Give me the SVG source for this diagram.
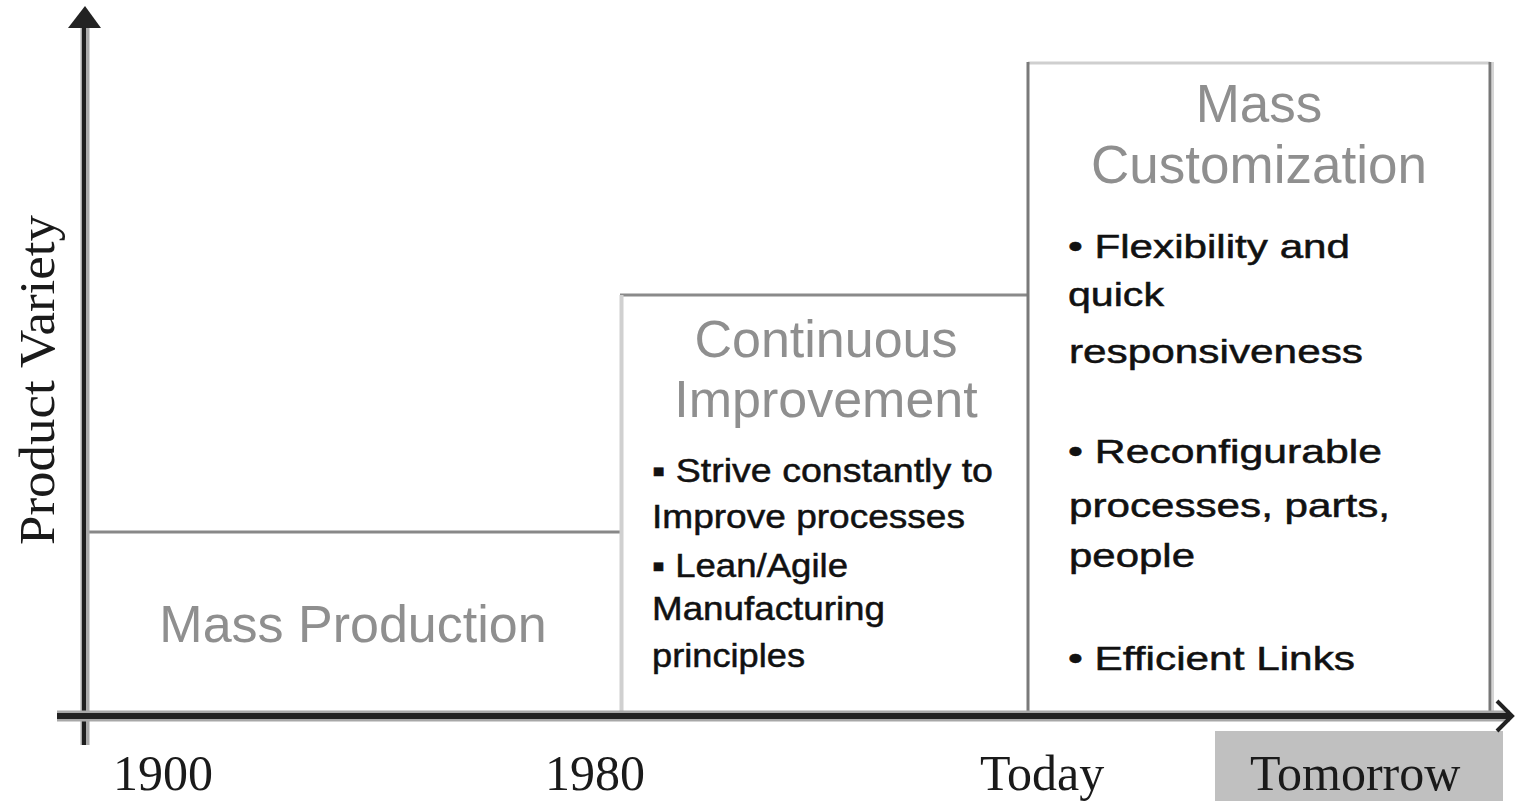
<svg xmlns="http://www.w3.org/2000/svg" width="1516" height="801" viewBox="0 0 1516 801">
<style>
.serif{font-family:"Liberation Serif","Times New Roman",serif;fill:#1a1a1a}
.title{font-family:"Liberation Sans",Arial,sans-serif;fill:#8f8f8f;text-anchor:middle}
.body{font-family:"Liberation Sans",Arial,sans-serif;fill:#111;font-size:33px;stroke:#111;stroke-width:0.5}
</style>
<rect width="1516" height="801" fill="#ffffff"/>
<g id="tomorrow-band">
<rect x="1215" y="731" width="288" height="70" fill="#c0c0c0"/>
</g>
<g id="mass-production">
<line x1="85" y1="532" x2="622" y2="532" stroke="#888" stroke-width="3"/>
<text class="title" x="353" y="642" font-size="52">Mass Production</text>
</g>
<g id="continuous-improvement">
<line x1="620" y1="295" x2="1028" y2="295" stroke="#8a8a8a" stroke-width="3"/>
<line x1="621.5" y1="295" x2="621.5" y2="716" stroke="#d0d0d0" stroke-width="4"/>
<text class="title" x="826" y="357" font-size="52">Continuous</text>
<text class="title" x="826" y="417" font-size="52">Improvement</text>
<text class="body" x="652" y="482" textLength="341" lengthAdjust="spacingAndGlyphs">▪ Strive constantly  to</text>
<text class="body" x="652" y="528" textLength="313" lengthAdjust="spacingAndGlyphs">Improve  processes</text>
<text class="body" x="652" y="577" textLength="196" lengthAdjust="spacingAndGlyphs">▪ Lean/Agile</text>
<text class="body" x="652" y="620" textLength="233" lengthAdjust="spacingAndGlyphs">Manufacturing</text>
<text class="body" x="652" y="667" textLength="153" lengthAdjust="spacingAndGlyphs">principles</text>
</g>
<g id="mass-customization">
<line x1="1028" y1="63" x2="1490" y2="63" stroke="#cfcfcf" stroke-width="3"/>
<line x1="1028" y1="62" x2="1028" y2="716" stroke="#7a7a7a" stroke-width="3"/>
<line x1="1490" y1="62" x2="1490" y2="716" stroke="#777" stroke-width="3"/>
<line x1="1493" y1="62" x2="1493" y2="716" stroke="#d5d5d5" stroke-width="2"/>
<text class="title" x="1259" y="122" font-size="53">Mass</text>
<text class="title" x="1259" y="183" font-size="53">Customization</text>
<text class="body" x="1068" y="258" textLength="282" lengthAdjust="spacingAndGlyphs">• Flexibility and</text>
<text class="body" x="1068" y="306" textLength="96" lengthAdjust="spacingAndGlyphs">quick</text>
<text class="body" x="1069" y="363" textLength="294" lengthAdjust="spacingAndGlyphs">responsiveness</text>
<text class="body" x="1068" y="463" textLength="314" lengthAdjust="spacingAndGlyphs">• Reconfigurable</text>
<text class="body" x="1069" y="517" textLength="321" lengthAdjust="spacingAndGlyphs">processes, parts,</text>
<text class="body" x="1069" y="567" textLength="126" lengthAdjust="spacingAndGlyphs">people</text>
<text class="body" x="1068" y="670" textLength="287" lengthAdjust="spacingAndGlyphs">• Efficient Links</text>
</g>
<g id="connectors">
<line x1="85" y1="26" x2="85" y2="745" stroke="#aaaaaa" stroke-width="9"/>
<line x1="84" y1="26" x2="84" y2="745" stroke="#1e1e1e" stroke-width="4"/>
<polygon points="85,6 101,28 68,28" fill="#222"/>
<line x1="57" y1="716" x2="1510" y2="716" stroke="#a8a8a8" stroke-width="11"/>
<line x1="57" y1="716" x2="1510" y2="716" stroke="#222" stroke-width="6"/>
<polyline points="1497,701 1512,716 1497,731" fill="none" stroke="#222" stroke-width="4"/>
</g>
<g id="labels">
<text class="serif" x="0" y="0" font-size="51" text-anchor="middle" textLength="330" lengthAdjust="spacingAndGlyphs" transform="translate(54,380) rotate(-90)">Product Variety</text>
<text class="serif" x="113" y="790" font-size="50">1900</text>
<text class="serif" x="545" y="790" font-size="50">1980</text>
<text class="serif" x="980" y="790" font-size="50">Today</text>
<text class="serif" x="1250" y="790" font-size="50">Tomorrow</text>
</g>
</svg>
